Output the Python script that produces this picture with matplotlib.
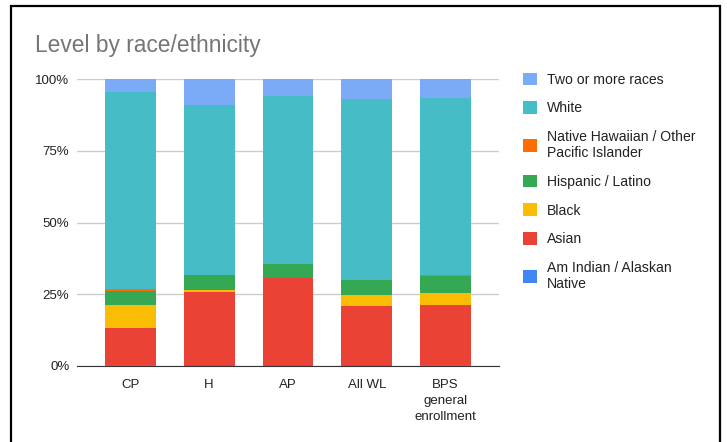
import matplotlib.pyplot as plt
from matplotlib.patches import Rectangle, Patch
from matplotlib.ticker import PercentFormatter
import numpy as np

plt.rcParams['font.family'] = ['Liberation Sans', 'DejaVu Sans']

levels = ['CP', 'H', 'AP', 'All WL', 'BPS\ngeneral\nenrollment']
groups = ['Am Indian / Alaskan\nNative', 'Asian', 'Black', 'Hispanic / Latino',
          'Native Hawaiian / Other\nPacific Islander', 'White', 'Two or more races']
colors = ['#4285F4', '#EA4335', '#FBBC04', '#34A853', '#FF6D01', '#46BDC6', '#7BAAF7']

# shares (%) per level
am_indian = [0.4, 0.0, 0.0, 0.1, 0.2]
asian = [13.0, 25.9, 30.5, 20.9, 21.1]
black = [7.9, 0.7, 0.0, 3.6, 4.2]
hispanic = [5.0, 5.1, 4.9, 5.5, 5.9]
native_hawaiian = [0.4, 0.0, 0.0, 0.0, 0.4]
white = [68.6, 59.2, 58.8, 62.8, 61.6]
two_or_more = [4.7, 9.1, 5.8, 7.1, 6.6]
series = [am_indian, asian, black, hispanic, native_hawaiian, white, two_or_more]

fig = plt.figure(figsize=(7.27, 4.42), dpi=100)
ax = fig.add_axes([77/727, 1 - 366/442, 422/727, 287/442])

x = np.arange(len(levels))
bottom = np.zeros(len(levels))
for vals, col in zip(series, colors):
    v = np.array(vals) / 100
    ax.bar(x, v, bottom=bottom, width=0.645, color=col, zorder=2)
    bottom += v

ax.set_xlim(-0.677, len(levels) - 1 + 0.677)
ax.set_ylim(0, 1)
ax.set_yticks([0, 0.25, 0.5, 0.75, 1.0])
ax.yaxis.set_major_formatter(PercentFormatter(1.0, decimals=0))
ax.set_xticks(x)
ax.set_xticklabels(levels, linespacing=1.45)
ax.tick_params(axis='both', length=0, labelsize=9.5, labelcolor='#222222')
ax.tick_params(axis='x', pad=9)
ax.tick_params(axis='y', pad=5.5)
ax.yaxis.grid(True, color='#cccccc', linewidth=1, zorder=0)
for s in ['top', 'right', 'left']:
    ax.spines[s].set_visible(False)
ax.spines['bottom'].set_color('#333333')
ax.spines['bottom'].set_zorder(3)

fig.text(35/727, 1 - 52/442, 'Level by race/ethnicity', fontsize=16.4, color='#757575')

handles = [Patch(facecolor=c, label=g) for g, c in zip(groups, colors)][::-1]
fig.legend(handles=handles, loc='upper left', bbox_to_anchor=(510/727, 1 - 60/442),
           frameon=False, fontsize=10.1, handlelength=1.0, handleheight=1.0,
           handletextpad=0.75, labelspacing=1.04, labelcolor='#222222')

fig.patches.append(Rectangle((11/727, -0.05), 709/727, 1.05 - 6/442, transform=fig.transFigure,
                             fill=False, edgecolor='black', linewidth=1.6))

fig.savefig('out.png', dpi=100)
